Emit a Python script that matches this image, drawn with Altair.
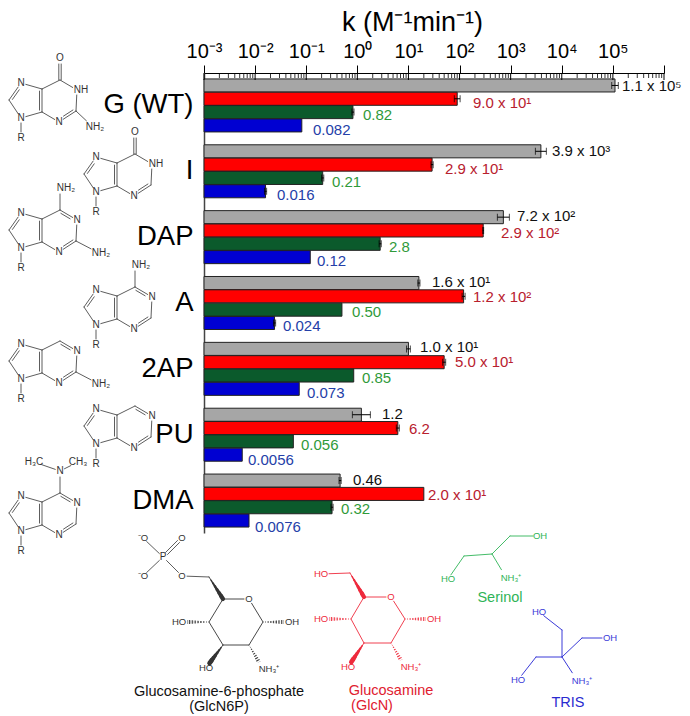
import math
import altair as alt
import pandas as pd

FONT = "Liberation Sans"
groups = ["G (WT)", "I", "DAP", "A", "2AP", "PU", "DMA"]
series = ["GlcN6P", "GlcN", "Serinol", "TRIS"]
fills = ["#a6a6a6", "#ff0000", "#0b5a2c", "#0000d2"]
text_cols = ["#111111", "#b8202e", "#2f9a3a", "#2440a8"]

k_values = {
    "G (WT)": [1.1e5, 9.0e1, 0.82, 0.082],
    "I": [3.9e3, 2.9e1, 0.21, 0.016],
    "DAP": [7.2e2, 2.9e2, 2.8, 0.12],
    "A": [1.6e1, 1.2e2, 0.50, 0.024],
    "2AP": [1.0e1, 5.0e1, 0.85, 0.073],
    "PU": [1.2, 6.2, 0.056, 0.0056],
    "DMA": [0.46, 2.0e1, 0.32, 0.0076],
}
err_factor = {
    "G (WT)": [1.16, 1.14, 1.05, 1.0],
    "I": [1.28, 1.05, 1.05, 1.05],
    "DAP": [1.31, 1.02, 1.05, 1.0],
    "A": [1.05, 1.07, 1.0, 1.05],
    "2AP": [1.09, 1.07, 1.0, 1.0],
    "PU": [1.5, 1.07, 1.0, 1.0],
    "DMA": [1.05, 1.0, 1.05, 1.0],
}
value_labels = {
    "G (WT)": ["1.1 x 10⁵", "9.0 x 10¹", "0.82", "0.082"],
    "I": ["3.9 x 10³", "2.9 x 10¹", "0.21", "0.016"],
    "DAP": ["7.2 x 10²", "2.9 x 10²", "2.8", "0.12"],
    "A": ["1.6 x 10¹", "1.2 x 10²", "0.50", "0.024"],
    "2AP": ["1.0 x 10¹", "5.0 x 10¹", "0.85", "0.073"],
    "PU": ["1.2", "6.2", "0.056", "0.0056"],
    "DMA": ["0.46", "2.0 x 10¹", "0.32", "0.0076"],
}
label_px = {
    "G (WT)": [622, 473, 363, 313],
    "I": [552, 445, 332, 277],
    "DAP": [517, 501, 389, 317],
    "A": [432, 473, 352, 283],
    "2AP": [420, 455, 362, 307],
    "PU": [382, 409, 301, 248],
    "DMA": [353, 428, 341, 255],
}
label_dy = {
    "G (WT)": [1, 4, 3, 5],
    "I": [0, 4, 4, 4],
    "DAP": [-1, 3, 3, 4],
    "A": [-1, 1, 2, 3],
    "2AP": [-2, 0, 2, 4],
    "PU": [-1, 1, 4, 5],
    "DMA": [-1, 1, 2, 6],
}
major_ticks = [1e-3, 1e-2, 1e-1, 1e0, 1e1, 1e2, 1e3, 1e4, 1e5, 1e6]
tick_names = {"0.001": "10⁻³", "0.01": "10⁻²", "0.1": "10⁻¹", "1": "10⁰", "10": "10¹",
              "100": "10²", "1000": "10³", "10000": "10⁴", "100000": "10⁵"}
minor_multiples = [2, 3, 4, 5, 6, 7, 8, 9]

PX0, PX_DEC = 204.0, 460.0 / 9.0
rows = []
for g in groups:
    for i, s in enumerate(series):
        v = k_values[g][i]
        f = err_factor[g][i]
        rows.append(dict(group=g, series=s, v=v, base=1e-3, lo=v / f, hi=v * f, fill=fills[i],
                         tcol=text_cols[i], label=value_labels[g][i], has_err=f > 1, dy=label_dy[g][i],
                         at=10 ** (-3 + (label_px[g][i] - PX0) / PX_DEC)))
df = pd.DataFrame(rows)
minor = pd.DataFrame({"x": [m * 10.0 ** e for e in range(-3, 6) for m in minor_multiples]})
major = pd.DataFrame({"x": major_ticks})

Y = alt.Y("group:N", sort=groups, title=None,
          scale=alt.Scale(paddingInner=0.195, paddingOuter=0.09),
          axis=alt.Axis(orient="left", ticks=False, domainColor="#444444", domainWidth=1.5,
                        labelFontSize=27.5, labelPadding=11, labelColor="#000000", labelFont=FONT,
                        labelOverlap=False, labelLimit=200))
YO = alt.YOffset("series:N", sort=series, scale=alt.Scale(paddingInner=0.02, paddingOuter=0))
label_expr = "{" + ",".join(f"'{k}':'{v}'" for k, v in tick_names.items()) + "}[toString(datum.value)] || ''"
X = alt.X("v:Q", title="k (M⁻¹min⁻¹)",
          scale=alt.Scale(type="log", domain=[1e-3, 1e6], nice=False),
          axis=alt.Axis(orient="top", values=major_ticks, labelExpr=label_expr, tickSize=8, tickColor="#000000",
                        domainColor="#000000", labelFontSize=20, labelFont=FONT, labelColor="#000000",
                        labelPadding=4, labelFlush=False, labelOverlap=False, grid=False,
                        titleFont=FONT, titleFontSize=27, titleFontWeight="normal", titleColor="#000000",
                        titleX=208, titleY=-51, titleAlign="center", titleBaseline="middle"))

bars = alt.Chart(df).mark_bar(stroke="#222222", strokeWidth=1).encode(
    x=X, x2="base:Q", y=Y, yOffset=YO, fill=alt.Fill("fill:N", scale=None))
whisk_df = df[df.has_err]
gy = alt.Y("group:N", sort=groups)
whisk = alt.Chart(whisk_df).mark_rule(color="#000000", strokeWidth=1).encode(
    x=alt.X("lo:Q"), x2="hi:Q", y=gy, yOffset=YO)
cap_lo = alt.Chart(whisk_df).mark_tick(color="#000000", size=7, thickness=1).encode(
    x=alt.X("lo:Q"), y=gy, yOffset=YO)
cap_hi = alt.Chart(whisk_df).mark_tick(color="#000000", size=7, thickness=1).encode(
    x=alt.X("hi:Q"), y=gy, yOffset=YO)
label_layers = [
    alt.Chart(df[df.dy == d]).mark_text(dy=int(d), align="left", baseline="middle", fontSize=15, font=FONT).encode(
        x=alt.X("at:Q"), y=gy, yOffset=YO, text="label:N", color=alt.Color("tcol:N", scale=None))
    for d in sorted(df.dy.unique())
]
minor_rule = alt.Chart(minor).mark_rule(color="#000000", strokeWidth=0.8).encode(
    x=alt.X("x:Q"), y=alt.value(0), y2=alt.value(5))
major_rule = alt.Chart(major).mark_rule(color="#000000", strokeWidth=1).encode(
    x=alt.X("x:Q"), y=alt.value(0), y2=alt.value(7))
main = alt.layer(bars, whisk, cap_lo, cap_hi, *label_layers, minor_rule, major_rule)

# ---------- chemical structures (drawn in picture coordinates through a linear scale)
segs, hashes, atoms = [], [], []
INK = "#333333"


def add_text(x, y, t, c=INK, s=10):
    atoms.append(dict(x=x, y=y, label=t, c=c, s=s))


def seg(p, q, c=INK, w=0.8, store=None):
    (store if store is not None else segs).append(dict(x=p[0], y=p[1], x2=q[0], y2=q[1], c=c, w=w))


def trim(p, q, cut_p, cut_q):
    d = math.hypot(q[0] - p[0], q[1] - p[1]) or 1
    ux, uy = (q[0] - p[0]) / d, (q[1] - p[1]) / d
    return (p[0] + ux * cut_p, p[1] + uy * cut_p), (q[0] - ux * cut_q, q[1] - uy * cut_q)


def wedge(p, q, c, w_end, store=None):
    n = 7
    for i in range(n):
        a = (p[0] + (q[0] - p[0]) * i / n, p[1] + (q[1] - p[1]) * i / n)
        b = (p[0] + (q[0] - p[0]) * (i + 1) / n, p[1] + (q[1] - p[1]) * (i + 1) / n)
        seg(a, b, c, 0.6 + (w_end - 0.6) * (i + 0.5) / n, store)


PURINE = dict(N7=(0, -35), C8=(-12, -18), N9=(0, 0), C4=(21, -6), C5=(21, -29), C6=(39, -38),
              N1=(56, -28), C2=(55, -7), N3=(38, 4), R=(0, 20), X2=(78, 5), X6=(39, -60),
              c5=(8, -17), c6=(39, -17))


def purine(ox, oy, n1="N", x2=None, x6=None, exo=False, x2_shift=(0, 0)):
    P = {k: (ox + v[0], oy + v[1]) for k, v in PURINE.items()}
    P["X2"] = (P["X2"][0] + x2_shift[0], P["X2"][1] + x2_shift[1])
    labelled = {"N7": 5, "N9": 5, "N1": 5, "N3": 5, "R": 6, "X2": 9, "X6": 6}
    singles = [("N9", "C8"), ("N7", "C5"), ("C4", "N9"), ("C5", "C6"), ("C4", "N3"), ("C2", "N1"), ("N9", "R")]
    doubles = [("C8", "N7", "c5"), ("C5", "C4", "c5"), ("N3", "C2", "c6")]
    if exo:
        singles.append(("N1", "C6"))
    else:
        doubles.append(("C6", "N1", "c6"))
    if x2:
        singles.append(("C2", "X2"))
    if x6 and not exo:
        singles.append(("C6", "X6"))
    for a, b in singles:
        p, q = trim(P[a], P[b], labelled.get(a, 0), labelled.get(b, 0))
        seg(p, q)
    for a, b, cn in doubles:
        p, q = trim(P[a], P[b], labelled.get(a, 0), labelled.get(b, 0))
        seg(p, q)
        mx, my = (p[0] + q[0]) / 2, (p[1] + q[1]) / 2
        d = math.hypot(P[cn][0] - mx, P[cn][1] - my)
        ox2, oy2 = (P[cn][0] - mx) / d * 2.5, (P[cn][1] - my) / d * 2.5
        p2, q2 = trim((p[0] + ox2, p[1] + oy2), (q[0] + ox2, q[1] + oy2), 2, 2)
        seg(p2, q2)
    if exo:
        p, q = trim(P["C6"], P["X6"], 0, 6)
        seg((p[0] - 1.2, p[1]), (q[0] - 1.2, q[1]))
        seg((p[0] + 1.2, p[1]), (q[0] + 1.2, q[1]))
    for k in ("N7", "N9", "N3"):
        add_text(P[k][0], P[k][1], "N")
    add_text(P["R"][0], P["R"][1], "R")
    add_text(P["N1"][0] + (4 if n1 == "NH" else 0), P["N1"][1], n1)
    if x2:
        add_text(P["X2"][0] + 2, P["X2"][1], x2)
    if x6:
        add_text(P["X6"][0] + (6 if x6 == "NH₂" else 0), P["X6"][1], x6)
    return P


purine(21, 118, n1="NH", x2="NH₂", x6="O", exo=True, x2_shift=(-6, 4))
purine(96, 192, n1="NH", x6="O", exo=True)
purine(21, 248, x2="NH₂", x6="NH₂")
purine(96, 325, x6="NH₂")
purine(21, 379, x2="NH₂")
purine(96, 444)
Pd = purine(21, 531, x6="N")
for end, txt in (((34, 462), "H₃C"), ((78, 462), "CH₃")):
    p, q = trim(Pd["X6"], end, 5, 8)
    seg(p, q)
    add_text(end[0], end[1], txt)


def sugar(A, col, tsize=9.5):
    ring = [A["C5"], A["O"], A["C1"], A["C2"], A["C3"], A["C4"], A["C5"]]
    for i in range(6):
        cut_a = 5 if ring[i] == A["O"] else 0
        cut_b = 5 if ring[i + 1] == A["O"] else 0
        p, q = trim(ring[i], ring[i + 1], cut_a, cut_b)
        seg(p, q, col, 0.9)
    wedge(A["CH2"], A["C5"], col, 4.5)
    wedge(*trim(A["C3"], A["HOb"], 0, 6), col, 5)
    wedge(*trim(A["C4"], A["HOl"], 2, 8), col, 4, hashes)
    wedge(*trim(A["C1"], A["OHr"], 2, 8), col, 4, hashes)
    wedge(*trim(A["C2"], A["NH3"], 2, 8), col, 4, hashes)
    add_text(*A["O"], "O", col, tsize)
    add_text(*A["HOl"], "HO", col, tsize)
    add_text(*A["OHr"], "OH", col, tsize)
    add_text(*A["HOb"], "HO", col, tsize)
    add_text(A["NH3"][0] + 6, A["NH3"][1], "NH₃⁺", col, tsize)


G6P = dict(C5=(223, 599), O=(249, 599), C1=(263, 622), C2=(249, 645), C3=(223, 645), C4=(209, 622),
           CH2=(209, 577), HOl=(179, 622), OHr=(292, 622), HOb=(206, 668), NH3=(263, 669))
sugar(G6P, "#333333")
for a, b, ca, cb in [((163, 557), (143, 538), 5, 5), ((163, 557), (143, 576), 5, 5), ((163, 557), (182, 576), 5, 5),
                     ((182, 576), (209, 577), 5, 0)]:
    seg(*trim(a, b, ca, cb))
pp, qq = trim((163, 557), (182, 538), 5, 5)
seg((pp[0] - 1, pp[1] - 1), (qq[0] - 1, qq[1] - 1))
seg((pp[0] + 1, pp[1] + 1), (qq[0] + 1, qq[1] + 1))
add_text(163, 557, "P")
add_text(143, 538, "⁻O", INK, 9.5)
add_text(143, 576, "⁻O", INK, 9.5)
add_text(182, 538, "O", INK, 9.5)
add_text(182, 576, "O", INK, 9.5)

RED = "#ee2a3c"
GLN = dict(C5=(364, 597), O=(391, 597), C1=(405, 619), C2=(391, 643), C3=(364, 643), C4=(351, 619),
           CH2=(350, 573), HOl=(321, 619), OHr=(434, 619), HOb=(348, 667), NH3=(405, 667))
sugar(GLN, RED)
seg(*trim((350, 573), (321, 574), 0, 8), RED, 0.9)
add_text(321, 574, "HO", RED, 9.5)

GRN = "#2fb457"
for a, b, ca, cb in [((540, 536), (510, 536), 7, 0), ((510, 536), (492, 554), 0, 0), ((492, 554), (464, 556), 0, 0),
                     ((464, 556), (448, 579), 0, 5), ((492, 554), (504, 574), 0, 5)]:
    seg(*trim(a, b, ca, cb), GRN, 0.9)
add_text(540, 536, "OH", GRN, 9.5)
add_text(448, 579, "HO", GRN, 9.5)
add_text(511, 578, "NH₃⁺", GRN, 9.5)

BLU = "#3a3ad8"
for a, b, ca, cb in [((562, 657), (562, 630), 0, 0), ((562, 630), (539, 612), 0, 6), ((562, 657), (582, 638), 0, 0),
                     ((582, 638), (610, 638), 0, 8), ((562, 657), (536, 657), 0, 0), ((536, 657), (518, 680), 0, 6),
                     ((562, 657), (575, 677), 0, 5)]:
    seg(*trim(a, b, ca, cb), BLU, 1)
add_text(539, 612, "HO", BLU, 9.5)
add_text(610, 638, "OH", BLU, 9.5)
add_text(518, 680, "HO", BLU, 9.5)
add_text(582, 681, "NH₃⁺", BLU, 9.5)

add_text(219, 692, "Glucosamine-6-phosphate", "#111111", 14.5)
add_text(219, 707, "(GlcN6P)", "#111111", 14.5)
add_text(391, 691, "Glucosamine", "#e0202f", 14.5)
add_text(372, 706, "(GlcN)", "#e0202f", 14.5)
add_text(500, 598, "Serinol", "#2fb457", 14.5)
add_text(568, 703, "TRIS", "#2a2ad0", 14.5)

SX = alt.Scale(domain=[204, 664], nice=False, zero=False)
SY = alt.Scale(domain=[533, 73], nice=False, zero=False)
cx = alt.X("x:Q", scale=SX, axis=None)
cy = alt.Y("y:Q", scale=SY, axis=None)
seg_layer = alt.Chart(pd.DataFrame(segs)).mark_rule(strokeCap="round").encode(
    x=cx, x2="x2:Q", y=cy, y2="y2:Q", color=alt.Color("c:N", scale=None), strokeWidth=alt.StrokeWidth("w:Q", scale=None))
hash_layer = alt.Chart(pd.DataFrame(hashes)).mark_rule(strokeDash=[1, 1.4]).encode(
    x=cx, x2="x2:Q", y=cy, y2="y2:Q", color=alt.Color("c:N", scale=None), strokeWidth=alt.StrokeWidth("w:Q", scale=None))
atom_layer = alt.Chart(pd.DataFrame(atoms)).mark_text(font=FONT, align="center", baseline="middle").encode(
    x=cx, y=cy, text="label:N", color=alt.Color("c:N", scale=None), size=alt.Size("s:Q", scale=None))
canvas = alt.layer(seg_layer, hash_layer, atom_layer)

chart = alt.layer(main, canvas).resolve_scale(x="independent", y="independent").properties(
    width=460, height=460,
    autosize=alt.AutoSizeParams(type="none"),
    padding={"left": 196, "top": 65, "right": 18, "bottom": 183},
).configure_view(stroke=None)

chart.save("out.html", embed_options={"renderer": "svg", "actions": False})
